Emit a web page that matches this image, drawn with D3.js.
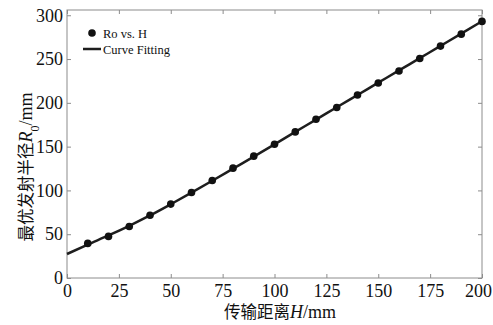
<!DOCTYPE html>
<html>
<head>
<meta charset="utf-8">
<script src="https://cdn.jsdelivr.net/npm/d3@7"></script>
<style>
  body { margin: 0; background: #fff; }
  svg { display: block; }
  text { font-family: "Liberation Serif", "Times New Roman", serif; fill: #111; }
</style>
</head>
<body>
<svg id="chart" width="493" height="325"></svg>
<script>
// measured points (Ro vs. H)
var pointH = [10, 20, 30, 40, 50, 60, 70, 80, 90, 100, 110, 120, 130, 140, 150, 160, 170, 180, 190, 200];
var pointR = [39.5, 47.5, 58.8, 71.6, 84.4, 97.7, 111.4, 125.4, 139.1, 152.8, 166.8, 181.3, 194.6, 209, 222.7, 236.4, 250.7, 264.8, 278.4, 293];

// fitted curve
var curveH = [0, 10, 20, 30, 40, 50, 60, 70, 80, 90, 100, 110, 120, 130, 140, 150, 160, 170, 180, 190, 200];
var curveR = [27.4, 38.2, 48.6, 59.6, 71.4, 84.2, 97.4, 111, 124.8, 138.6, 152.6, 166.8, 180.8, 195, 209, 223, 237, 251, 265, 279, 293.2];

var xTicks = [0, 25, 50, 75, 100, 125, 150, 175, 200];
var yTicks = [0, 50, 100, 150, 200, 250, 300];

var svg = d3.select("#chart"),
    MARGINS = {top: 10, right: 11, bottom: 47, left: 67},
    WIDTH = 493,
    HEIGHT = 325;

var xScale = d3.scaleLinear().domain([0, 200]).range([MARGINS.left, WIDTH - MARGINS.right]);
var yScale = d3.scaleLinear().domain([0, 306]).range([HEIGHT - MARGINS.bottom, MARGINS.top]);

// frame
svg.append("rect")
  .attr("x", MARGINS.left)
  .attr("y", MARGINS.top)
  .attr("width", xScale(200) - MARGINS.left)
  .attr("height", yScale(0) - MARGINS.top)
  .attr("fill", "none")
  .attr("stroke", "#8c8c8c")
  .attr("stroke-width", 1);

function styleAxis(g) {
  g.attr("font-family", null).attr("font-size", null);
  g.select(".domain").remove();
  g.selectAll(".tick line").attr("stroke", "#8c8c8c");
  g.selectAll(".tick text")
    .style("font-family", "'Liberation Serif', serif")
    .style("font-size", "18px")
    .attr("fill", "#111");
}

// bottom axis
var xAxisG = svg.append("g")
  .attr("transform", "translate(0," + yScale(0) + ")")
  .call(d3.axisBottom(xScale).tickValues(xTicks).tickSizeInner(-4).tickSizeOuter(0).tickPadding(6))
  .call(styleAxis);
// keep the last label inside the page
xAxisG.selectAll(".tick text").filter(function(d) { return d === 200; }).attr("dx", -4);

// left axis
svg.append("g")
  .attr("transform", "translate(" + MARGINS.left + ",0)")
  .call(d3.axisLeft(yScale).tickValues(yTicks).tickSizeInner(-4).tickSizeOuter(0).tickPadding(4))
  .call(styleAxis);

// top & right ticks, no labels
svg.append("g")
  .attr("transform", "translate(0," + MARGINS.top + ")")
  .call(d3.axisTop(xScale).tickValues(xTicks).tickSizeInner(-4).tickSizeOuter(0).tickFormat(""))
  .call(styleAxis);

svg.append("g")
  .attr("transform", "translate(" + xScale(200) + ",0)")
  .call(d3.axisRight(yScale).tickValues(yTicks).tickSizeInner(-4).tickSizeOuter(0).tickFormat(""))
  .call(styleAxis);

// curve fitting
var lineGen = d3.line()
  .x(function(d, i) { return xScale(curveH[i]); })
  .y(function(d) { return yScale(d); })
  .curve(d3.curveMonotoneX);

svg.append("path")
  .attr("d", lineGen(curveR))
  .attr("fill", "none")
  .attr("stroke", "#1e1e1e")
  .attr("stroke-width", 2.5);

// data points
svg.append("g").selectAll("circle")
  .data(pointR)
  .enter().append("circle")
  .attr("cx", function(d, i) { return xScale(pointH[i]); })
  .attr("cy", function(d) { return yScale(d); })
  .attr("r", 3.8)
  .attr("fill", "#111");

// legend
var legend = svg.append("g");
legend.append("circle").attr("cx", 92).attr("cy", 33).attr("r", 3.8).attr("fill", "#111");
legend.append("text").attr("x", 103).attr("y", 37.5).style("font-size", "12.5px").text("Ro vs. H");
legend.append("line").attr("x1", 83).attr("x2", 101).attr("y1", 49).attr("y2", 49)
  .attr("stroke", "#1e1e1e").attr("stroke-width", 2.5);
legend.append("text").attr("x", 103).attr("y", 53.5).style("font-size", "12.5px").text("Curve Fitting");

// x title
var xt = svg.append("text")
  .attr("x", 280)
  .attr("y", 318)
  .attr("text-anchor", "middle")
  .style("font-size", "18px");
xt.append("tspan").style("font-family", '"Noto Sans CJK SC", serif').style("font-size", "16.5px").text("传输距离");
xt.append("tspan").style("font-style", "italic").text("H");
xt.append("tspan").text("/mm");

// y title
var yt = svg.append("text")
  .attr("transform", "translate(31.5," + 167 + ") rotate(-90)")
  .attr("text-anchor", "middle")
  .style("font-size", "18px");
yt.append("tspan").style("font-family", '"Noto Sans CJK SC", serif').style("font-size", "16.5px").text("最优发射半径");
yt.append("tspan").style("font-style", "italic").text("R");
yt.append("tspan").attr("baseline-shift", "sub").style("font-size", "12px").text("0");
yt.append("tspan").text("/mm");
</script>
</body>
</html>
